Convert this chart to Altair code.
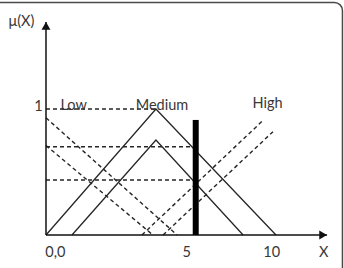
import altair as alt
import pandas as pd

# ---- membership functions (x in input units, y = membership degree) ----
medium_outer_x = [0.0, 4.78, 10.0]
medium_outer_y = [0.0, 1.0, 0.0]
medium_inner_x = [1.13, 4.78, 8.57]
medium_inner_y = [0.0, 0.754, 0.0]
low_outer_x = [0.0, 5.70]
low_outer_y = [0.93, 0.0]
low_inner_x = [0.0, 4.65]
low_inner_y = [0.71, 0.0]
high_outer_x = [4.17, 9.38]
high_outer_y = [0.0, 0.90]
high_inner_x = [5.09, 9.87]
high_inner_y = [0.0, 0.82]

# ---- reference levels and crisp input ----
level_one_x = [0.0, 4.78]
level_one_y = [1.0, 1.0]
cut_levels = [0.70, 0.437]
crisp_input = 6.51
crisp_top = 0.913

# ---- text labels ----
set_names = ["Low", "Medium", "High"]
set_label_x = [1.2, 5.04, 9.63]
set_label_y = [1.02, 1.025, 1.04]
tick_labels = ["0,0", "5", "10"]
tick_label_x = [0.41, 6.12, 9.81]
tick_label_y = -0.139
axis_x_end = 12.22
axis_y_end = 1.69

XD = [-2.0, 12.957]
YD = [-0.262, 1.865]
xs = alt.Scale(domain=XD, nice=False, zero=False)
ys = alt.Scale(domain=YD, nice=False, zero=False)
W, H = 344, 268
FONT = "Lato"
FS = 14.5
TXT = "#383838"
LINE = "#262626"


def series(name, xv, yv):
    return [{"s": name, "x": a, "y": b, "o": i} for i, (a, b) in enumerate(zip(xv, yv))]


solid_rows = series("mo", medium_outer_x, medium_outer_y) + series("mi", medium_inner_x, medium_inner_y)
dash_rows = (series("lo", low_outer_x, low_outer_y) + series("li", low_inner_x, low_inner_y)
             + series("ho", high_outer_x, high_outer_y) + series("hi", high_inner_x, high_inner_y)
             + series("one", level_one_x, level_one_y))
for k, lv in enumerate(cut_levels):
    dash_rows += series(f"cut{k}", [0.0, crisp_input], [lv, lv])

solid_df = pd.DataFrame(solid_rows)
dash_df = pd.DataFrame(dash_rows)

X = alt.X("x:Q", scale=xs, axis=None)
Y = alt.Y("y:Q", scale=ys, axis=None)

solid = alt.Chart(solid_df).mark_line(color=LINE, strokeWidth=1.3).encode(
    x=X, y=Y, detail="s:N", order="o:Q")
dashed = alt.Chart(dash_df).mark_line(color=LINE, strokeWidth=1.4, strokeDash=[4, 3]).encode(
    x=X, y=Y, detail="s:N", order="o:Q")

axes_df = pd.DataFrame({"x": [0.0, 0.0], "y": [0.0, 0.0], "x2": [axis_x_end, 0.0], "y2": [0.0, axis_y_end]})
axes = alt.Chart(axes_df).mark_rule(color="#111111", strokeWidth=1.5).encode(
    x=X, y=Y, x2="x2:Q", y2="y2:Q")

arrow_df = pd.DataFrame({"x": [axis_x_end - 0.17, 0.0], "y": [0.0, axis_y_end - 0.03],
                         "shape": ["triangle-right", "triangle-up"]})
arrows = alt.Chart(arrow_df).mark_point(filled=True, color="#111111", opacity=1, size=80).encode(
    x=X, y=Y, shape=alt.Shape("shape:N", scale=None))

bar_df = pd.DataFrame({"x": [crisp_input], "y": [0.0], "y2": [crisp_top]})
bar = alt.Chart(bar_df).mark_rule(color="black", strokeWidth=6, strokeCap="butt").encode(
    x=X, y=Y, y2="y2:Q")

names_df = pd.DataFrame({"x": set_label_x, "y": set_label_y, "t": set_names})
names = alt.Chart(names_df).mark_text(font=FONT, fontSize=FS, color=TXT).encode(
    x=X, y=Y, text="t:N")

ticks_df = pd.DataFrame({"x": tick_label_x, "y": [tick_label_y] * 3, "t": tick_labels})
ticks = alt.Chart(ticks_df).mark_text(font=FONT, fontSize=FS, color=TXT).encode(
    x=X, y=Y, text="t:N")

other_df = pd.DataFrame({"x": [12.07, -0.33, -1.07], "y": [-0.139, 1.015, 1.69], "t": ["X", "1", "μ(X)"]})
other = alt.Chart(other_df).mark_text(font=FONT, fontSize=FS, color=TXT).encode(
    x=X, y=Y, text="t:N")

frame_df = pd.DataFrame({"x": [-2.6], "x2": [12.89], "y": [1.845], "y2": [-0.4]})
frame = alt.Chart(frame_df).mark_rect(fill="white", stroke="#4a4a4a", strokeWidth=1.5, cornerRadius=8).encode(
    x=X, x2="x2:Q", y=Y, y2="y2:Q")

chart = alt.layer(frame, dashed, solid, axes, arrows, bar, names, ticks, other).properties(
    width=W, height=H,
    autosize=alt.AutoSizeParams(type="none"),
    padding=0,
    background="white",
).configure_view(stroke=None)

chart.save("out.html", embed_options={"renderer": "svg", "actions": False})
